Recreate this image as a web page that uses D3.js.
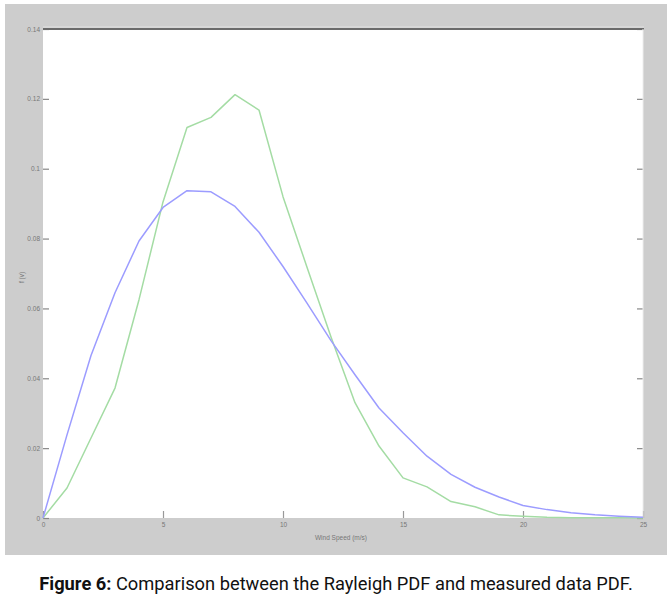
<!DOCTYPE html>
<html>
<head>
<meta charset="utf-8">
<script src="https://cdn.jsdelivr.net/npm/d3@7"></script>
<style>
html,body{margin:0;padding:0;background:#fff;}
svg{display:block;}
</style>
</head>
<body>
<svg id="chart" width="671" height="600"></svg>
<script>
// ---- data ----
const windSpeed = [0,1,2,3,4,5,6,7,8,9,10,11,12,13,14,15,16,17,18,19,20,21,22,23,24,25];
const rayleighPdf = [0,0.0238,0.0465,0.0645,0.0793,0.0889,0.0937,0.0934,0.0892,0.0818,0.0720,0.0615,0.0508,0.0410,0.0315,0.0244,0.0177,0.0125,0.0088,0.0060,0.0036,0.0024,0.0015,0.0009,0.0005,0.0002];
const measuredPdf = [0,0.0086,0.0229,0.0372,0.0625,0.0905,0.1118,0.1147,0.1212,0.1168,0.0920,0.0718,0.0518,0.0330,0.0206,0.0115,0.0089,0.0047,0.0032,0.0009,0.0005,0.0002,0.0001,0.0001,0.0001,0];
const xTicks = [0,5,10,15,20,25];
const xTickLabels = ["0","5","10","15","20","25"];
const yTicks = [0,0.02,0.04,0.06,0.08,0.1,0.12,0.14];
const yTickLabels = ["0","0.02","0.04","0.06","0.08","0.1","0.12","0.14"];
const xLabel = "Wind Speed (m/s)";
const yLabel = "f (v)";
const captionBold = "Figure 6:";
const captionText = " Comparison between the Rayleigh PDF and measured data PDF.";

(function(){
const svg = d3.select("#chart");
const W = 671, H = 600;
const pL = 43, pR = 643, pT = 29, pB = 518;

// figure background
svg.append("rect").attr("x",5).attr("y",4).attr("width",662).attr("height",551).attr("fill","#cdcdcd");
// plot area
svg.append("rect").attr("x",pL).attr("y",pT).attr("width",pR-pL).attr("height",pB-pT).attr("fill","#ffffff");

const x = d3.scaleLinear().domain([0,25]).range([pL,pR]);
const y = d3.scaleLinear().domain([0,0.14]).range([pB,pT]);

const tickFont = "Liberation Sans, Arial, sans-serif";

// left axis
const gy = svg.append("g").attr("transform",`translate(${pL},0)`)
  .call(d3.axisLeft(y).tickValues(yTicks).tickFormat((d,i)=>yTickLabels[i]).tickSize(-6).tickPadding(3));
gy.select(".domain").remove();
gy.selectAll(".tick line").attr("stroke","#888").attr("stroke-width",1.2);
gy.selectAll(".tick text").attr("font-family",tickFont).attr("font-size",6.5).attr("fill","#777");

// right axis ticks (inward)
const gyr = svg.append("g").attr("transform",`translate(${pR},0)`)
  .call(d3.axisRight(y).tickValues(yTicks).tickFormat("").tickSize(-6));
gyr.select(".domain").remove();
gyr.selectAll(".tick line").attr("stroke","#888").attr("stroke-width",1.2);

// bottom axis
const gx = svg.append("g").attr("transform",`translate(0,${pB})`)
  .call(d3.axisBottom(x).tickValues(xTicks).tickFormat((d,i)=>xTickLabels[i]).tickSize(-7).tickPadding(4));
gx.select(".domain").remove();
gx.selectAll(".tick line").attr("stroke","#999").attr("stroke-width",1.2);
gx.selectAll(".tick text").attr("font-family",tickFont).attr("font-size",6.5).attr("fill","#777");

// top border
svg.append("line").attr("x1",pL).attr("x2",pR+1).attr("y1",pT).attr("y2",pT)
  .attr("stroke","#6a6a6a").attr("stroke-width",2);
svg.append("line").attr("x1",pL).attr("x2",pR+1).attr("y1",pT-2).attr("y2",pT-2)
  .attr("stroke","#e0e0e0").attr("stroke-width",1);
// right border (light)
svg.append("line").attr("x1",pR).attr("x2",pR).attr("y1",pT).attr("y2",pB)
  .attr("stroke","#eeeeee").attr("stroke-width",1);

// lines
const line = d3.line().x((d,i)=>x(windSpeed[i])).y(d=>y(d));
svg.append("path").datum(measuredPdf).attr("d",line).attr("fill","none")
  .attr("stroke","#a4dca4").attr("stroke-width",1.5).attr("stroke-linejoin","round");
svg.append("path").datum(rayleighPdf).attr("d",line).attr("fill","none")
  .attr("stroke","#9c9cff").attr("stroke-width",1.5).attr("stroke-linejoin","round");

// axis labels
svg.append("text").attr("x",(pL+pR)/2 - 2).attr("y",540).attr("text-anchor","middle")
  .attr("font-family",tickFont).attr("font-size",6.5).attr("fill","#777").text(xLabel);
svg.append("text").attr("transform",`translate(24,${(pT+pB)/2 + 4}) rotate(-90)`).attr("text-anchor","middle")
  .attr("font-family",tickFont).attr("font-size",6.5).attr("fill","#777").text(yLabel);

// caption
const cap = svg.append("text").attr("x",336).attr("y",590).attr("text-anchor","middle")
  .attr("font-family","Roboto, Liberation Sans, Arial, sans-serif").attr("font-size",18.3).attr("fill","#111");
cap.append("tspan").attr("font-weight","bold").text(captionBold);
cap.append("tspan").text(captionText);
})();
</script>
</body>
</html>
